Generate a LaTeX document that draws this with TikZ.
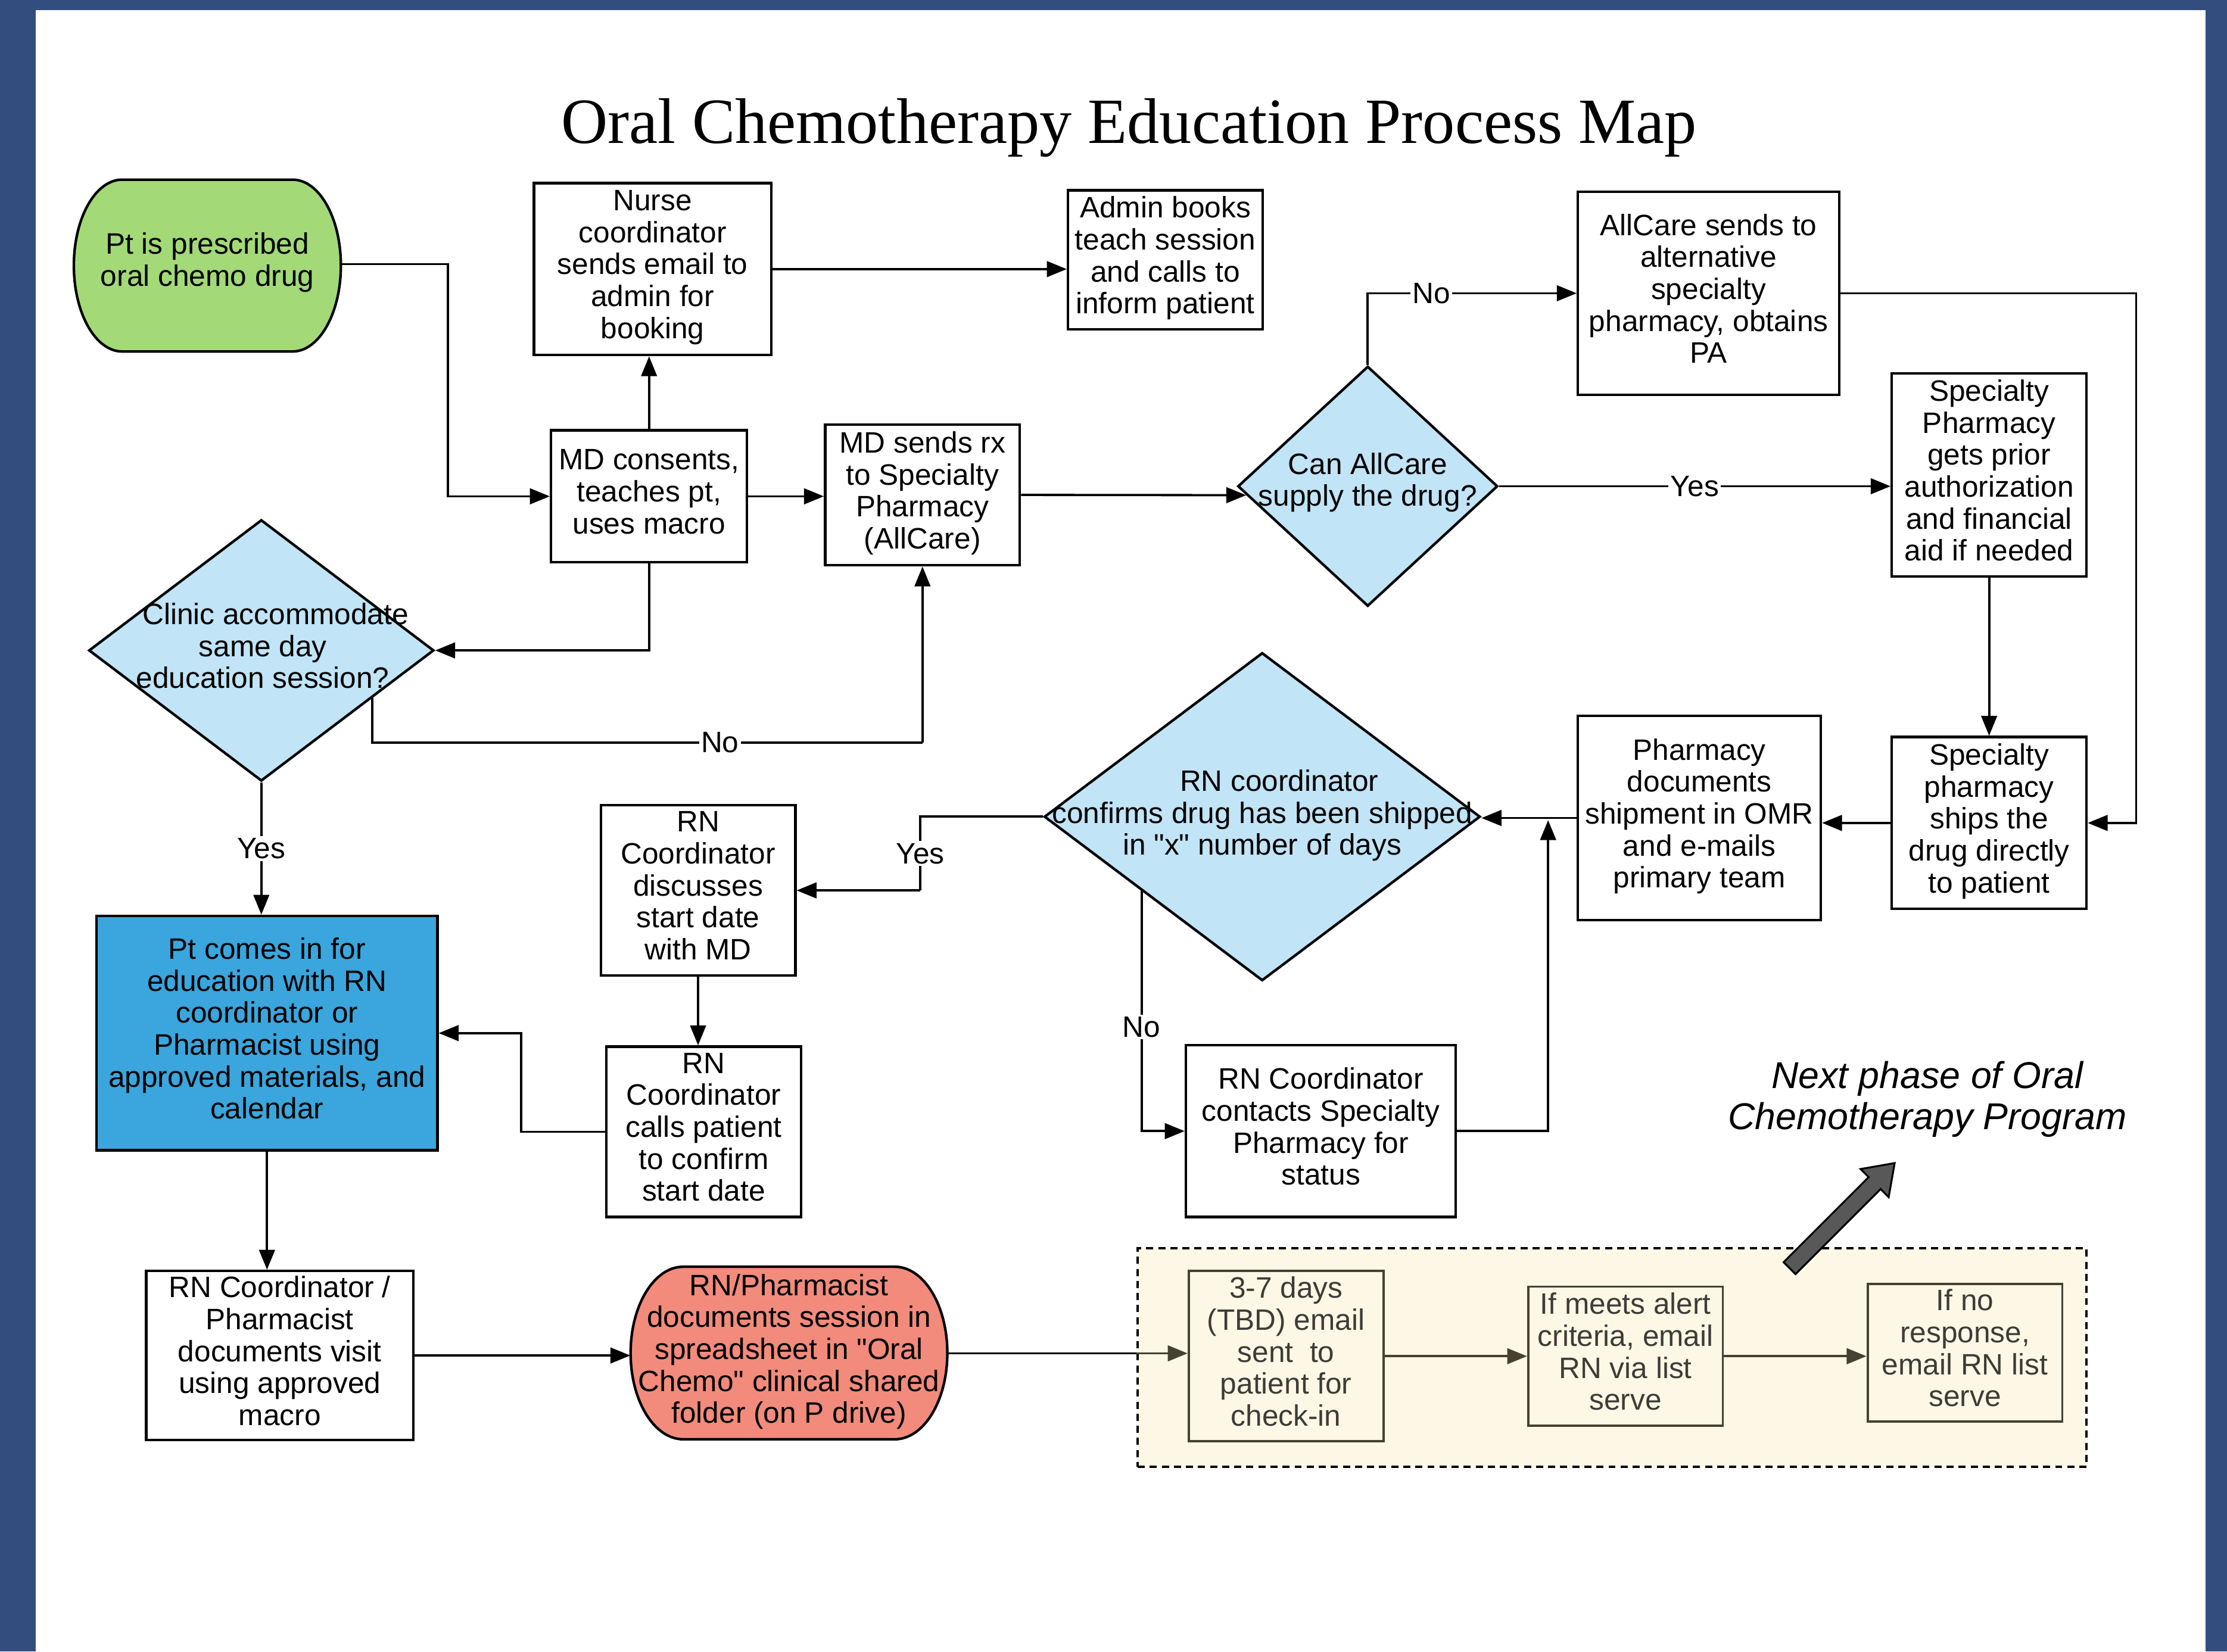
\documentclass[tikz,border=0pt]{standalone}
\usepackage{fontspec}
\setmainfont{Liberation Sans}[Ligatures=TeXOff]
\newfontfamily\titlefont{Liberation Serif}
\usetikzlibrary{arrows.meta,shapes.geometric,calc}
\definecolor{frameblue}{RGB}{51,78,126}
\definecolor{startgreen}{RGB}{163,217,119}
\definecolor{diablue}{RGB}{193,228,246}
\definecolor{ptblue}{RGB}{58,166,221}
\definecolor{salmonfill}{RGB}{242,139,124}
\definecolor{creamfill}{RGB}{253,247,229}
\definecolor{olivedark}{RGB}{70,65,50}
\definecolor{phasetext}{RGB}{62,60,55}
\definecolor{bigarrowgray}{RGB}{88,88,88}
\newcommand{\mainsz}{\fontsize{20.8}{22.5}\selectfont}
\newcommand{\topstrutx}{\rule{0pt}{17.5pt}}
\tikzset{
  struts/.style={execute at begin node=\topstrutx, execute at end node=\strut},
  box/.style={draw, line width=1.8pt, fill=white, align=center, inner sep=0pt, font=\mainsz, struts},
  pbox/.style={draw=olivedark, line width=1.6pt, fill=creamfill, text=phasetext, align=center, inner sep=0pt, font=\mainsz, struts},
  dia/.style={diamond, draw, line width=1.8pt, fill=diablue, inner sep=0pt},
  conn/.style={line width=1.6pt},
  arr/.style={line width=1.6pt, -{Triangle[length=14pt,width=11pt]}},
  oarr/.style={line width=1.6pt, draw=olivedark, -{Triangle[length=14pt,width=11pt]}},
  lbl/.style={fill=white, inner sep=1.5pt, font=\mainsz},
  txt/.style={font=\mainsz, align=center, inner sep=0pt, struts}
}
\begin{document}
\begin{tikzpicture}[x=1pt,y=-1pt]
\useasboundingbox (0,0) rectangle (1568,1163);
\fill[frameblue] (0,0) rectangle (1568,1163);
\fill[white] (25,7) rectangle (1553,1163);

% title
\node[font=\titlefont\fontsize{45.4}{50}\selectfont, anchor=base, inner sep=0pt] (title) at (795,101) {Oral Chemotherapy Education Process Map};

% start terminator
\draw[line width=1.8pt, fill=startgreen] (86,126.5) -- (206,126.5) .. controls (224.8,126.5) and (240,153.6) .. (240,187) .. controls (240,220.4) and (224.8,247.5) .. (206,247.5) -- (86,247.5) .. controls (67.2,247.5) and (52,220.4) .. (52,187) .. controls (52,153.6) and (67.2,126.5) .. cycle;
\node[txt, minimum width=188, minimum height=121] (start) at (146,186) {Pt is prescribed\\oral chemo drug};

% boxes
\node[box, minimum width=167, minimum height=121] (nurse) at (459.5,189.5) {Nurse\\coordinator\\sends email to\\admin for\\booking};
\node[box, minimum width=137, minimum height=98] (admin) at (820.5,183) {Admin books\\teach session\\and calls to\\inform patient};
\node[box, minimum width=138, minimum height=93] (mdc) at (457,349.5) {MD consents,\\teaches pt,\\uses macro};
\node[box, minimum width=137, minimum height=99] (mdrx) at (649.5,348.5) {MD sends rx\\to Specialty\\Pharmacy\\(AllCare)};
\node[dia, minimum width=183, minimum height=169] (can) at (963,342.4) {};
\node[txt] (cantext) at (963,341) {Can AllCare\\supply the drug?};
\node[box, minimum width=184, minimum height=143] (allcare) at (1203,206.5) {AllCare sends to\\alternative\\specialty\\pharmacy, obtains\\PA};
\node[box, minimum width=137, minimum height=143] (spget) at (1400.5,334.5) {Specialty\\Pharmacy\\gets prior\\authorization\\and financial\\aid if needed};
\node[box, minimum width=137, minimum height=121] (spship) at (1400.5,579.5) {Specialty\\pharmacy\\ships the\\drug directly\\to patient};
\node[box, minimum width=171, minimum height=144] (phdoc) at (1196.5,576) {Pharmacy\\documents\\shipment in OMR\\and e-mails\\primary team};
\node[dia, minimum width=307, minimum height=231] (rnconf) at (888.7,575.1) {};
\node[txt] (rnconftext) at (888.7,575.5) {\hspace{24pt}RN coordinator\\confirms drug has been shipped\\in "x" number of days};
\node[box, minimum width=190, minimum height=121] (rncontact) at (930,796.5) {RN Coordinator\\contacts Specialty\\Pharmacy for\\status};
\node[box, minimum width=137, minimum height=120] (rndisc) at (491.5,627) {RN\\Coordinator\\discusses\\start date\\with MD};
\node[box, minimum width=137, minimum height=120] (rncall) at (495.5,797) {RN\\Coordinator\\calls patient\\to confirm\\start date};
\node[dia, minimum width=243, minimum height=184] (clinic) at (184,458) {};
\node[txt] (clinictext) at (185,458) {\hspace{18pt}Clinic accommodate\\same day\\education session?};
\node[box, fill=ptblue, minimum width=240, minimum height=165] (ptcomes) at (188,727.5) {Pt comes in for\\education with RN\\coordinator or\\Pharmacist using\\approved materials, and\\calendar};
\node[box, minimum width=188, minimum height=119] (rndoc) at (197,954.5) {RN Coordinator /\\Pharmacist\\documents visit\\using approved\\macro};

% red terminator
\draw[line width=1.8pt, fill=salmonfill] (481,892) -- (630,892) .. controls (650.4,892) and (667,919.2) .. (667,952.75) .. controls (667,986.3) and (650.4,1013.5) .. (630,1013.5) -- (481,1013.5) .. controls (460.6,1013.5) and (444,986.3) .. (444,952.75) .. controls (444,919.2) and (460.6,892) .. cycle;
\node[txt, minimum width=223, minimum height=121] (red) at (555.5,953) {RN/Pharmacist\\documents session in\\spreadsheet in "Oral\\Chemo" clinical shared\\folder (on P drive)};

% next phase group
\node[draw, line width=1.6pt, dash pattern=on 5pt off 3.5pt, fill=creamfill, minimum width=668, minimum height=154, inner sep=0pt] (phase) at (1135,956) {};
\node[pbox, minimum width=137, minimum height=120] (d37) at (905.5,955) {3-7 days\\(TBD) email\\sent\ \ to\\patient for\\check-in};
\node[pbox, minimum width=137, minimum height=98] (ifmeets) at (1144.5,955) {If meets alert\\criteria, email\\RN via list\\serve};
\node[pbox, minimum width=137, minimum height=97] (ifno) at (1383.5,952.5) {If no\\response,\\email RN list\\serve};
\node[font=\itshape\fontsize{26.3}{29}\selectfont, align=center, inner sep=0pt] (next) at (1357,774) {Next phase of Oral\\Chemotherapy Program};

% big gray arrow
\draw[line width=1.3pt, fill=bigarrowgray] (1264.2,897.2) -- (1255.8,888.8) -- (1315.7,828.9) -- (1310.0,823.2) -- (1334,819) -- (1329.8,843.0) -- (1324.1,837.3) -- cycle;

% connectors
\coordinate (rr) at (1504,0);
\coordinate (yescorner) at (648,627);
\coordinate (jn) at (1090,577.5);
\coordinate (nocorner) at (649.5,523);

\draw[arr] (start.east) -- ++(75,0) |- (mdc.west);
\draw[arr] (mdc.north) -- (mdc.north |- nurse.south);
\draw[arr] (nurse.east) -- (nurse.east -| admin.west);
\draw[arr] (mdc.east) -- (mdc.east -| mdrx.west);
\draw[arr] (mdrx.east) -- ($(can.west)+(6.8,6.3)$);
\draw[arr] (can.north) |- node[lbl, pos=0.652] {No} (allcare.west);
\draw[arr] (can.east) -- node[lbl, pos=0.5] {Yes} (can.east -| spget.west);
\draw[arr] (allcare.east) -- (allcare.east -| rr) |- (spship.east);
\draw[arr] (spget.south) -- (spship.north);
\draw[arr] (spship.west) -- (spship.west -| phdoc.east);
\draw[arr] (phdoc.west) -- (phdoc.west -| rnconf.east);
\draw[conn] (rnconf.west) -| node[lbl, pos=0.75] {Yes} (yescorner);
\draw[arr] (yescorner) -- (rndisc.east);
\draw[arr] ($(rnconf.west)!0.45!(rnconf.south)$) |- node[lbl, pos=0.283] {No} (rncontact.west);
\draw[arr] (rncontact.east) -| (jn);
\draw[arr] (rndisc.south) -- (rndisc.south |- rncall.north);
\draw[arr] (rncall.west) -- ++(-59,0) |- (ptcomes.east);
\draw[arr] (mdc.south) |- (clinic.east);
\draw[conn] ($(clinic.east)!0.362!(clinic.south)$) |- node[lbl, pos=0.816] {No} (nocorner);
\draw[arr] (nocorner) -- (mdrx.south);
\draw[arr] (clinic.south) -- node[lbl] {Yes} (clinic.south |- ptcomes.north);
\draw[arr] (ptcomes.south) -- (ptcomes.south |- rndoc.north);
\draw[arr] (rndoc.east) -- (rndoc.east -| red.west);
\draw[conn] (red.east) -- (red.east -| phase.west);
\draw[oarr] (red.east -| phase.west) -- (red.east -| d37.west);
\draw[oarr] (d37.east) -- (ifmeets.west);
\draw[oarr] (ifmeets.east) -- (ifmeets.east -| ifno.west);
\end{tikzpicture}
\end{document}
